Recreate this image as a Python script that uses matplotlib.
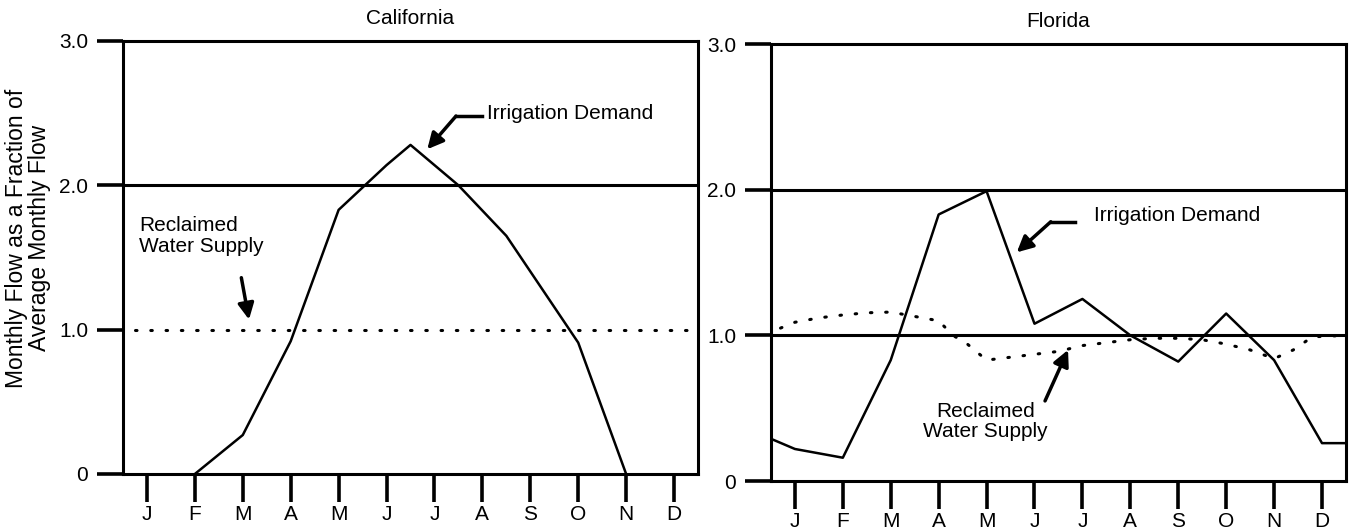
import matplotlib
matplotlib.use("Agg")
from matplotlib import pyplot as plt

plt.rcParams['font.family'] = ['Liberation Sans', 'DejaVu Sans']

months = ["J", "F", "M", "A", "M", "J", "J", "A", "S", "O", "N", "D"]
month_pos = list(range(1, 13))

# California
ca_demand_x = [2, 3, 4, 5, 6, 6.5, 7.5, 8.5, 10, 11]
ca_demand = [0.0, 0.27, 0.92, 1.83, 2.14, 2.28, 2.0, 1.65, 0.91, 0.0]
ca_supply_x = [0.75, 12.5]
ca_supply = [1.0, 1.0]

# Florida
fl_demand_x = [0.5, 1, 2, 3, 4, 5, 6, 7, 8, 9, 10, 11, 12, 12.5]
fl_demand = [0.29, 0.22, 0.16, 0.83, 1.83, 1.99, 1.08, 1.25, 1.0, 0.82, 1.15, 0.83, 0.26, 0.26]
fl_supply_x = [0.7, 1.0, 1.5, 2.0, 2.5, 3.0, 3.5, 4.0, 4.3, 4.6, 5.0, 5.5, 6.0, 6.5,
               7.0, 7.5, 8.0, 8.5, 9.0, 9.5, 10.0, 10.5, 11.0, 11.4, 11.8, 12.5]
fl_supply = [1.05, 1.09, 1.12, 1.14, 1.155, 1.16, 1.13, 1.10, 1.0, 0.94, 0.83, 0.85,
             0.87, 0.89, 0.93, 0.95, 0.97, 0.98, 0.98, 0.97, 0.94, 0.90, 0.84, 0.9, 0.99, 1.0]

fig = plt.figure(figsize=(13.53, 5.29), dpi=100)
ax1 = fig.add_axes([0.0909, 0.104, 0.425, 0.8185])
ax2 = fig.add_axes([0.5698, 0.0907, 0.425, 0.826])

dot = (0, (0.5, 4.5))
fs = 15


def style(ax, title):
    ax.set_xlim(0.5, 12.5)
    ax.set_ylim(0, 3)
    for s in ax.spines.values():
        s.set_linewidth(2.2)
    ax.set_xticks(month_pos)
    ax.set_xticklabels(months, fontsize=fs)
    ax.set_yticks([0, 1, 2, 3])
    ax.set_yticklabels(["0", "1.0", "2.0", "3.0"], fontsize=fs)
    ax.tick_params(axis='x', direction='out', length=20, width=2.6, pad=2)
    ax.tick_params(axis='y', direction='out', length=19, width=2.6, pad=6)
    ax.axhline(2.0, color='black', lw=2.2)
    ax.set_title(title, fontsize=fs, pad=12)


style(ax1, "California")
ax1.plot(ca_demand_x, ca_demand, color='black', lw=1.8)
ax1.plot(ca_supply_x, ca_supply, color='black', lw=2.2, linestyle=dot, dash_capstyle='round')

ax1.plot([8.0, 7.45], [2.48, 2.48], color='black', lw=2.5)
ax1.annotate("", xy=(6.85, 2.25), xytext=(7.45, 2.48),
             arrowprops=dict(arrowstyle='-|>', lw=2.5, color='black', mutation_scale=24,
                             shrinkA=0, shrinkB=0))
ax1.text(8.1, 2.5, "Irrigation Demand", fontsize=fs, va='center', ha='left')
ax1.text(0.83, 1.65, "Reclaimed\nWater Supply", fontsize=fs, va='center', ha='left',
         linespacing=1.1)
ax1.annotate("", xy=(3.13, 1.07), xytext=(2.97, 1.36),
             arrowprops=dict(arrowstyle='-|>', lw=2.5, color='black', mutation_scale=24,
                             shrinkA=0, shrinkB=0))

style(ax2, "Florida")
ax2.axhline(1.0, color='black', lw=2.2)
ax2.plot(fl_demand_x, fl_demand, color='black', lw=1.8)
ax2.plot(fl_supply_x, fl_supply, color='black', lw=2.2, linestyle=dot, dash_capstyle='round')

ax2.plot([6.85, 6.34], [1.78, 1.78], color='black', lw=2.5)
ax2.annotate("", xy=(5.63, 1.57), xytext=(6.34, 1.78),
             arrowprops=dict(arrowstyle='-|>', lw=2.5, color='black', mutation_scale=24,
                             shrinkA=0, shrinkB=0))
ax2.text(7.24, 1.82, "Irrigation Demand", fontsize=fs, va='center', ha='left')
ax2.text(4.97, 0.41, "Reclaimed\nWater Supply", fontsize=fs, va='center', ha='center',
         linespacing=1.1)
ax2.annotate("", xy=(6.7, 0.9), xytext=(6.22, 0.55),
             arrowprops=dict(arrowstyle='-|>', lw=2.5, color='black', mutation_scale=24,
                             shrinkA=0, shrinkB=0))

fig.text(0.021, 0.55, "Monthly Flow as a Fraction of\nAverage Monthly Flow", rotation=90,
         fontsize=16.5, ha='center', va='center', multialignment='center', linespacing=1.0)

fig.savefig("out.png", dpi=100)
